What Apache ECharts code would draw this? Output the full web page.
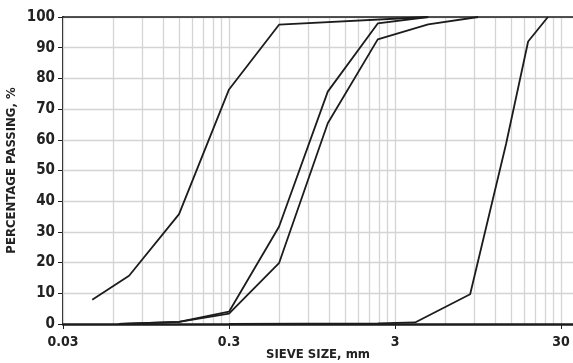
<!DOCTYPE html>
<html>
<head>
<meta charset="utf-8">
<script src="https://cdn.jsdelivr.net/npm/echarts@6/dist/echarts.min.js"></script>
<style>
  html, body { margin: 0; padding: 0; background: #fff; }
  #chart { width: 573px; height: 363px; }
</style>
</head>
<body>
<div id="chart"></div>
<script>
// Grading curves: sieve size (mm) against percentage passing
const sizesA = [0.045, 0.075, 0.15, 0.3, 0.6, 4.75];
const passA  = [7.9, 15.7, 35.8, 76.4, 97.5, 100];

const sizesB = [0.065, 0.15, 0.3, 0.6, 1.18, 2.36, 4.75];
const passB  = [0, 0.7, 4.0, 31.7, 75.7, 97.9, 100];

const sizesC = [0.065, 0.15, 0.3, 0.6, 1.18, 2.36, 4.75, 9.5];
const passC  = [0, 0.7, 3.4, 19.8, 65.4, 92.7, 97.6, 100];

const sizesD = [0.3, 2.36, 3.96, 8.5, 14, 19, 25];
const passD  = [0, 0.2, 0.5, 9.7, 58.7, 92, 100];

// Labelled sieve sizes on the log axis
const xTickLabels = [0.03, 0.3, 3, 30];
// Vertical grid lines: multiples of each labelled size within its decade
const xGridValues = [];
[0.03, 0.3, 3].forEach(function (base) {
  for (let k = 1; k <= 9; k++) xGridValues.push(+(base * k).toPrecision(3));
});
xGridValues.push(30);

const X_MIN = 0.03, X_MAX = 35.4;

const font = '"DejaVu Sans Condensed", "DejaVu Sans", sans-serif';
const textColor = '#222';

function pairs(xs, ys) {
  return xs.map(function (x, i) { return [x, ys[i]]; });
}

function curve(name, xs, ys) {
  return {
    name: name,
    type: 'line',
    xAxisIndex: 0,
    yAxisIndex: 0,
    data: pairs(xs, ys),
    showSymbol: false,
    symbol: 'none',
    lineStyle: { color: '#1c1c1c', width: 1.8 },
    z: 5
  };
}

const chart = echarts.init(document.getElementById('chart'), null, { renderer: 'canvas' });

chart.setOption({
  animation: false,
  backgroundColor: '#fff',
  grid: { left: 63, right: 0, top: 17, bottom: 39, containLabel: false, outerBoundsMode: 'none' },
  xAxis: [
    {
      type: 'log',
      logBase: 10,
      min: X_MIN,
      max: X_MAX,
      position: 'bottom',
      name: 'SIEVE SIZE, mm',
      nameLocation: 'middle',
      nameGap: 24,
      nameMoveOverlap: false,
      nameTextStyle: { fontFamily: font, fontWeight: 'bold', fontSize: 13, color: textColor, verticalAlign: 'top' },
      axisLine: { show: true, lineStyle: { color: '#1c1c1c', width: 2.5 } },
      axisTick: { show: true, length: 5, customValues: xTickLabels, lineStyle: { color: '#1c1c1c', width: 1 } },
      axisLabel: {
        customValues: xTickLabels,
        margin: 11,
        fontFamily: font, fontWeight: 'bold', fontSize: 14, color: textColor,
        formatter: function (v) { return String(+Number(v).toPrecision(3)); }
      },
      splitLine: { show: false },
      z: 10
    },
    {
      type: 'log',
      logBase: 10,
      min: X_MIN,
      max: X_MAX,
      position: 'top',
      axisLine: { show: true, lineStyle: { color: '#1c1c1c', width: 1.5 } },
      axisTick: { show: false, customValues: xGridValues },
      axisLabel: { show: false },
      splitLine: { show: true, lineStyle: { color: '#d4d4d4', width: 1.3 } },
      z: 1
    }
  ],
  yAxis: {
    type: 'value',
    min: 0,
    max: 100,
    interval: 10,
    name: 'PERCENTAGE PASSING, %',
    nameLocation: 'middle',
    nameGap: 45,
    nameMoveOverlap: false,
    nameTextStyle: { fontFamily: font, fontWeight: 'bold', fontSize: 13, color: textColor },
    axisLine: { show: true, lineStyle: { color: '#1c1c1c', width: 2 } },
    axisTick: { show: true, length: 5, lineStyle: { color: '#1c1c1c', width: 1 } },
    axisLabel: { margin: 8, fontFamily: font, fontWeight: 'bold', fontSize: 15, color: textColor },
    splitLine: { show: true, lineStyle: { color: '#d4d4d4', width: 1.3 } }
  },
  series: [
    curve('A', sizesA, passA),
    curve('B', sizesB, passB),
    curve('C', sizesC, passC),
    curve('D', sizesD, passD)
  ]
});
</script>
</body>
</html>
